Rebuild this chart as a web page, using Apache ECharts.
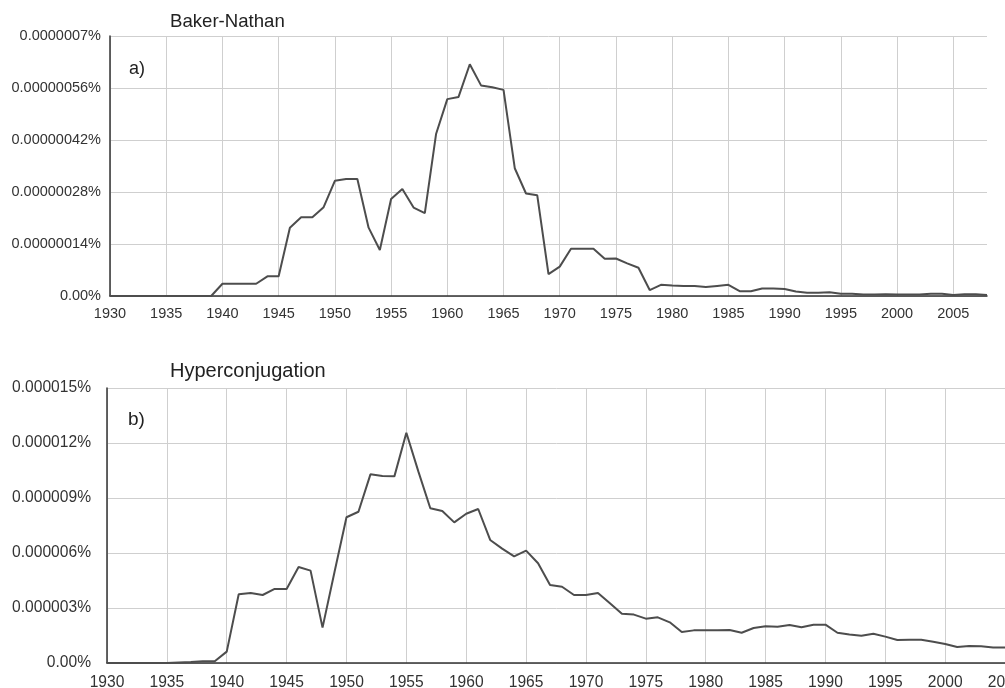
<!DOCTYPE html>
<html>
<head>
<meta charset="utf-8">
<script src="https://cdn.jsdelivr.net/npm/echarts@6/dist/echarts.min.js"></script>
<style>
html,body{margin:0;padding:0;background:#fff;}
#chart{width:1005px;height:688px;}
</style>
</head>
<body>
<div id="chart"></div>
<script>
// Years 1930..2008
const years = [];
for (let y = 1930; y <= 2008; y++) years.push(y);

// Baker-Nathan, in units of 1e-7 %
const bakerNathan = [
  0,0,0,0,0,0,0,0,0,0,
  0.33,0.33,0.33,0.33,0.53,0.53,1.84,2.12,2.12,2.39,
  3.10,3.15,3.15,1.84,1.24,2.61,2.88,2.38,2.23,4.36,
  5.30,5.36,6.24,5.67,5.62,5.55,3.44,2.76,2.71,0.59,
  0.79,1.27,1.27,1.27,1.00,1.01,0.88,0.76,0.16,0.30,
  0.28,0.27,0.27,0.24,0.27,0.30,0.13,0.13,0.20,0.20,
  0.19,0.12,0.09,0.09,0.10,0.06,0.06,0.04,0.04,0.05,
  0.04,0.04,0.04,0.06,0.06,0.03,0.05,0.05,0.03
];

// Hyperconjugation, in units of 1e-6 %
const hyperconjugation = [
  0,0,0,0,0,0,0.03,0.05,0.10,0.10,
  0.62,3.75,3.82,3.71,4.04,4.04,5.24,5.04,1.93,4.96,
  7.95,8.25,10.29,10.20,10.18,12.56,10.45,8.44,8.29,7.67,
  8.14,8.40,6.71,6.24,5.82,6.13,5.44,4.25,4.16,3.71,
  3.71,3.82,3.26,2.69,2.64,2.42,2.49,2.22,1.69,1.78,
  1.78,1.78,1.80,1.65,1.91,2.00,1.98,2.07,1.95,2.09,
  2.09,1.65,1.55,1.49,1.60,1.44,1.25,1.27,1.27,1.16,
  1.04,0.87,0.93,0.91,0.85,0.84,0.82,0.80,0.78
];

const yTicksA = ['0.00%','0.00000014%','0.00000028%','0.00000042%','0.00000056%','0.0000007%'];
const yTicksB = ['0.00%','0.000003%','0.000006%','0.000009%','0.000012%','0.000015%'];

const titleA = 'Baker-Nathan';
const titleB = 'Hyperconjugation';
const panelA = 'a)';
const panelB = 'b)';

const FONT = "'Liberation Sans', Arial, Helvetica, sans-serif";

function pairs(vals){ return years.map((y,i)=>[y, vals[i]]); }

const chart = echarts.init(document.getElementById('chart'), null, {renderer:'canvas'});

function xAxisCfg(gridIndex, fontSize, margin){
  return {
    type:'value', gridIndex, min:1930, max:2008, interval:5,
    axisLine:{show:true, onZero:false, lineStyle:{color:'#333', width:1.5}},
    axisTick:{show:false},
    splitLine:{show:true, showMaxLine:false, lineStyle:{color:'#cfcfcf', width:1}},
    axisLabel:{color:'#333', fontSize, fontFamily:FONT, margin, formatter:v=>String(v), showMaxLabel:false}
  };
}
function yAxisCfg(gridIndex, max, interval, ticks, fontSize, margin){
  return {
    type:'value', gridIndex, min:0, max, interval,
    axisLine:{show:true, lineStyle:{color:'#333', width:1.5}},
    axisTick:{show:false},
    splitLine:{show:true, lineStyle:{color:'#cfcfcf', width:1}},
    axisLabel:{color:'#333', fontSize, fontFamily:FONT, margin,
      formatter:v=>ticks[Math.round(v/interval)]}
  };
}

chart.setOption({
  backgroundColor:'#fff',
  animation:false,
  grid:[
    {left:110, right:18, top:36, bottom:392, outerBoundsMode:'none', containLabel:false},
    {left:107, right:-36, top:388, bottom:25, outerBoundsMode:'none', containLabel:false}
  ],
  xAxis:[ xAxisCfg(0, 14.5, 10), xAxisCfg(1, 15.6, 12) ],
  yAxis:[
    yAxisCfg(0, 7, 1.4, yTicksA, 14.5, 9),
    yAxisCfg(1, 15, 3, yTicksB, 15.6, 16)
  ],
  graphic:[
    {type:'text', left:170, top:12, style:{text:titleA, font:'18.6px '+FONT, fill:'#222'}},
    {type:'text', left:129, top:60, style:{text:panelA, font:'18px '+FONT, fill:'#222'}},
    {type:'text', left:170, top:361, style:{text:titleB, font:'20px '+FONT, fill:'#222'}},
    {type:'text', left:128, top:410, style:{text:panelB, font:'19px '+FONT, fill:'#222'}}
  ],
  series:[
    {type:'line', xAxisIndex:0, yAxisIndex:0, data:pairs(bakerNathan), showSymbol:false,
     lineStyle:{color:'#4d4d4d', width:2}, silent:true},
    {type:'line', xAxisIndex:1, yAxisIndex:1, data:pairs(hyperconjugation), showSymbol:false,
     lineStyle:{color:'#4d4d4d', width:2}, silent:true}
  ]
});
</script>
</body>
</html>
